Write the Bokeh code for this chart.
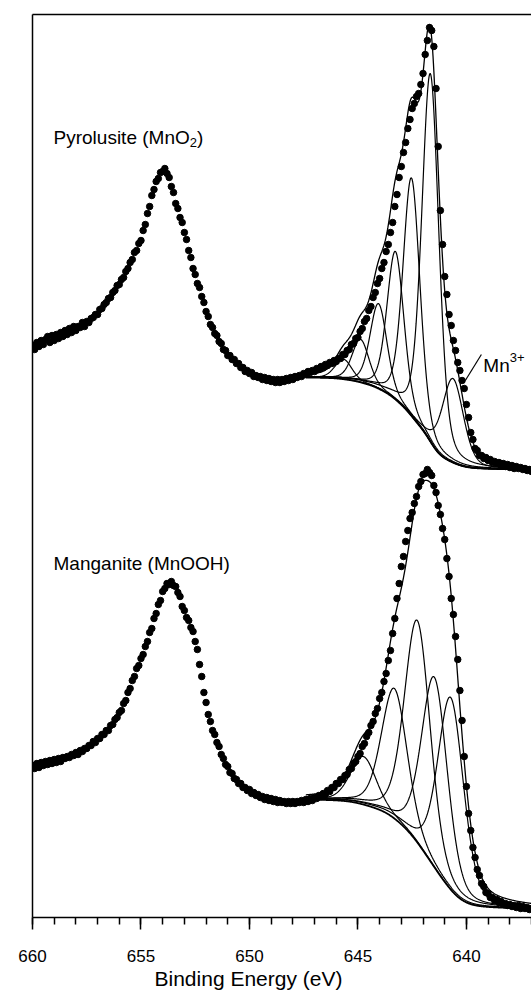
import numpy as np
from bokeh.plotting import figure
from bokeh.models import Range1d, FixedTicker, LinearAxis, Title
from bokeh.core.properties import value
from bokeh.embed import file_html
from bokeh.resources import INLINE

FONT = "Liberation Sans"

# ---------------- data ----------------
energy_ev = np.round(np.linspace(660.0, 637.0, 231), 1)

pyrolusite_counts = [
    572, 568, 575, 571, 577, 573, 578, 581, 575, 582,
    577, 583, 579, 585, 581, 587, 583, 589, 585, 591,
    587, 591, 590, 595, 591, 596, 595, 599, 600, 603,
    603, 608, 609, 613, 615, 619, 620, 625, 627, 632,
    633, 638, 640, 646, 649, 655, 658, 665, 667, 674,
    677, 687, 693, 704, 711, 722, 728, 736, 739, 745,
    746, 749, 744, 740, 731, 725, 714, 709, 700, 695,
    685, 678, 667, 660, 649, 643, 634, 630, 621, 615,
    606, 601, 593, 590, 584, 582, 576, 574, 568, 567,
    562, 562, 558, 558, 554, 554, 550, 550, 546, 547,
    544, 545, 541, 542, 540, 541, 538, 540, 537, 539,
    536, 538, 535, 538, 535, 538, 536, 539, 537, 540,
    538, 541, 540, 542, 541, 544, 543, 546, 545, 547,
    546, 549, 548, 551, 550, 553, 552, 555, 554, 557,
    556, 559, 559, 563, 563, 567, 568, 573, 574, 579,
    580, 586, 589, 596, 599, 607, 611, 620, 625, 634,
    639, 649, 655, 666, 673, 685, 695, 711, 723, 740,
    751, 765, 775, 789, 798, 809, 814, 821, 824, 833,
    844, 863, 877, 890, 887, 871, 829, 771, 707, 673,
    641, 623, 603, 592, 577, 567, 555, 547, 537, 529,
    513, 500, 485, 478, 469, 467, 462, 462, 459, 460,
    457, 458, 455, 456, 454, 455, 452, 454, 451, 453,
    450, 452, 449, 451, 449, 450, 448, 449, 447, 448,
    446,
]

manganite_counts = [
    152, 149, 154, 150, 155, 152, 156, 153, 157, 154,
    158, 155, 159, 156, 160, 159, 161, 160, 163, 162,
    165, 163, 167, 166, 169, 169, 172, 172, 176, 175,
    179, 179, 183, 183, 187, 187, 192, 193, 198, 200,
    205, 207, 214, 217, 225, 229, 237, 241, 249, 252,
    259, 263, 271, 276, 285, 289, 299, 304, 313, 317,
    326, 329, 334, 333, 336, 332, 331, 325, 321, 311,
    307, 300, 297, 290, 286, 276, 268, 253, 241, 225,
    215, 203, 196, 187, 183, 175, 171, 163, 159, 153,
    151, 145, 144, 139, 138, 134, 134, 130, 130, 127,
    128, 124, 125, 122, 123, 120, 121, 118, 120, 117,
    119, 116, 118, 115, 117, 115, 116, 114, 116, 114,
    116, 114, 116, 115, 117, 115, 118, 116, 119, 117,
    120, 119, 122, 121, 124, 123, 127, 126, 130, 130,
    134, 134, 138, 138, 142, 143, 148, 149, 154, 156,
    161, 164, 171, 174, 181, 185, 192, 196, 204, 209,
    219, 225, 236, 244, 257, 267, 284, 299, 319, 334,
    351, 361, 376, 387, 399, 405, 414, 421, 431, 436,
    443, 444, 448, 445, 442, 432, 425, 412, 403, 389,
    378, 359, 341, 319, 303, 281, 258, 227, 197, 161,
    131, 104, 87, 70, 60, 48, 42, 34, 31, 25,
    24, 20, 20, 17, 18, 15, 16, 13, 14, 12,
    13, 11, 12, 10, 12, 9, 11, 9, 10, 8,
    9,
]

# fitted components (centre eV, height above background, FWHM eV)
pyro_peak_centres = [641.66, 642.53, 643.27, 644.05, 644.88, 645.67, 640.62]
pyro_peak_heights = [368, 238, 148, 85, 43, 20, 84]
pyro_peak_fwhm = [0.92, 0.92, 0.92, 0.92, 0.92, 0.92, 1.15]
pyro_bg_ends = [540, 448]          # background at left / right end of fit window

mang_peak_centres = [644.75, 643.32, 642.26, 641.47, 640.72]
mang_peak_heights = [48, 130, 222, 190, 192]
mang_peak_fwhm = [1.4, 1.4, 1.4, 1.4, 1.4]
mang_bg_ends = [118, 9]

fit_window = [647.4, 637.0]
lorentz_fraction = 0.3

x_ticks = [660, 655, 650, 645, 640]
x_minor_ticks = list(range(637, 661))


def gl_peak(x, c, h, w, m):
    d2 = ((x - c) / w) ** 2
    return h * ((1 - m) * np.exp(-4 * np.log(2) * d2) + m / (1 + 4 * d2))


def fit_curves(centres, heights, fwhms, bg_ends):
    x = np.linspace(fit_window[0], fit_window[1], 521)
    peaks = [gl_peak(x, c, h, w, lorentz_fraction) for c, h, w in zip(centres, heights, fwhms)]
    total = np.sum(peaks, axis=0)
    cum = np.cumsum(total[::-1])[::-1]
    bg = bg_ends[1] + (bg_ends[0] - bg_ends[1]) * cum / cum[0]
    comps = [bg + pk for pk in peaks]
    return x, bg, comps, bg + total


p = figure(width=531, height=994, output_backend="svg", toolbar_location=None,
           x_range=Range1d(660, 637), y_range=Range1d(0, 903),
           min_border_left=32, min_border_right=0, min_border_top=14, min_border_bottom=77)
p.background_fill_color = "white"
p.border_fill_color = "white"
p.outline_line_color = None
p.xgrid.visible = False
p.ygrid.visible = False

# bottom axis
xa = p.xaxis[0]
xa.ticker = FixedTicker(ticks=x_ticks, minor_ticks=x_minor_ticks)
xa.axis_line_width = 1.5
xa.axis_line_color = "black"
xa.major_tick_line_width = 1.5
xa.minor_tick_line_width = 1.5
xa.major_tick_line_color = "black"
xa.minor_tick_line_color = "black"
xa.major_tick_out = 12
xa.major_tick_in = 0
xa.minor_tick_out = 7
xa.minor_tick_in = 0
xa.major_label_text_font = FONT
xa.major_label_text_font_size = "17px"
xa.major_label_text_color = "black"
xa.major_label_standoff = 20

# left axis: line only
ya = p.yaxis[0]
ya.ticker = FixedTicker(ticks=[])
ya.axis_line_width = 1.5
ya.axis_line_color = "black"
ya.major_tick_line_color = None
ya.minor_tick_line_color = None

# top frame line
top = LinearAxis(ticker=FixedTicker(ticks=[]), axis_line_width=1.5, axis_line_color="black",
                 major_tick_line_color=None, minor_tick_line_color=None)
p.add_layout(top, "above")

# x-axis title, centred under the 660-640 span as in the original
xtitle = Title(text="Binding Energy (eV)", align="left", offset=122, standoff=0,
               text_font=FONT, text_font_size="21px", text_font_style="normal",
               text_color="black")
p.add_layout(xtitle, "below")

for centres, heights, fwhms, bg_ends, counts in [
    (pyro_peak_centres, pyro_peak_heights, pyro_peak_fwhm, pyro_bg_ends, pyrolusite_counts),
    (mang_peak_centres, mang_peak_heights, mang_peak_fwhm, mang_bg_ends, manganite_counts),
]:
    x, bg, comps, env = fit_curves(centres, heights, fwhms, bg_ends)
    p.multi_line([list(x)] * len(comps), [list(c) for c in comps], line_color="black", line_width=1.2)
    p.line(x, bg, line_color="black", line_width=1.8)
    p.line(x, env, line_color="black", line_width=1.3)
    p.scatter(energy_ev, counts, size=6.5, marker="circle", fill_color="black", line_color="black")

# labels
lab_font = value(FONT)
p.text(x=[659.03], y=[780], text=["Pyrolusite (MnO"], text_font=lab_font,
       text_font_size=value("19px"), text_color="black", text_baseline="alphabetic")
p.text(x=[659.03], y=[780], text=["2"], text_font=lab_font, x_offset=136.2, y_offset=5,
       text_font_size=value("13px"), text_color="black", text_baseline="alphabetic")
p.text(x=[659.03], y=[780], text=[")"], text_font=lab_font, x_offset=143.4,
       text_font_size=value("19px"), text_color="black", text_baseline="alphabetic")
p.text(x=[659.03], y=[354], text=["Manganite (MnOOH)"], text_font=lab_font,
       text_font_size=value("19px"), text_color="black", text_baseline="alphabetic")

mn_label_x = [639.22]
mn_label_y = [552]
p.text(x=mn_label_x, y=mn_label_y, text=["Mn"], text_font=lab_font,
       text_font_size=value("19px"), text_color="black", text_baseline="alphabetic")
p.text(x=mn_label_x, y=mn_label_y, text=["3+"], text_font=lab_font, x_offset=26.4, y_offset=-8,
       text_font_size=value("13px"), text_color="black", text_baseline="alphabetic")
p.segment(x0=[640.05], y0=[537], x1=[639.31], y1=[563], line_color="black", line_width=1.2)

open("out.html", "w").write(file_html(p, INLINE))
